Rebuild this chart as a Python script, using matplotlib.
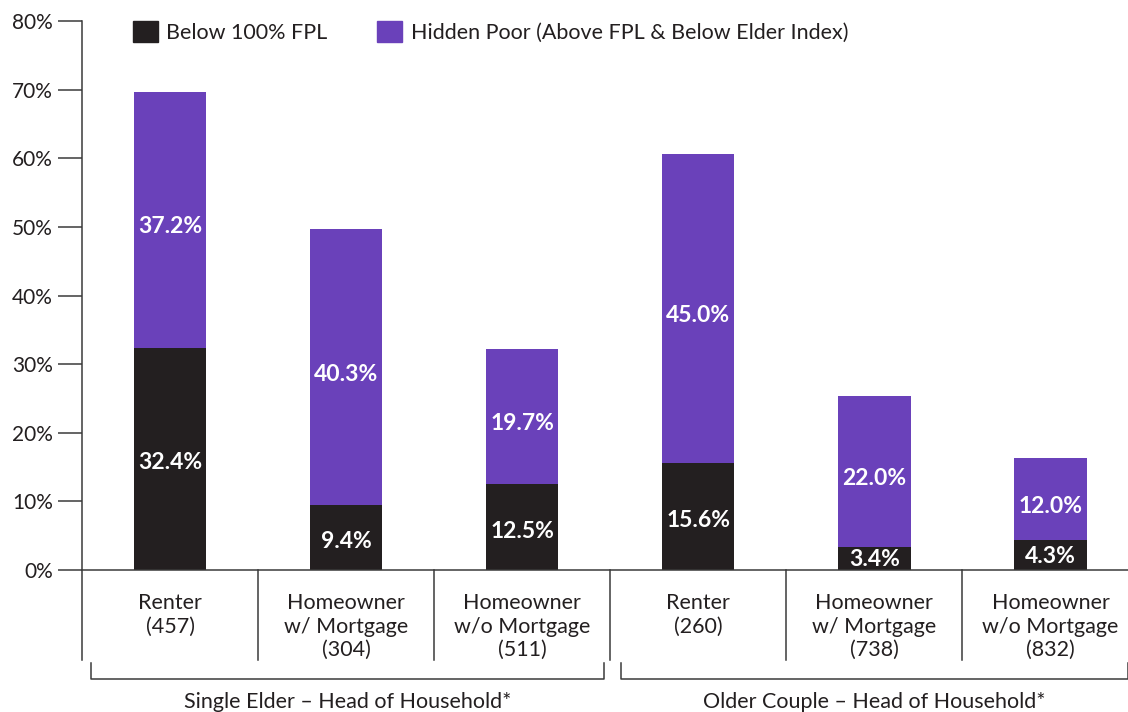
import matplotlib.pyplot as plt
from matplotlib.patches import Patch

plt.rcParams["font.family"] = ["Lato", "DejaVu Sans"]

categories = [
    "Renter\n(457)",
    "Homeowner\nw/ Mortgage\n(304)",
    "Homeowner\nw/o Mortgage\n(511)",
    "Renter\n(260)",
    "Homeowner\nw/ Mortgage\n(738)",
    "Homeowner\nw/o Mortgage\n(832)",
]
below_fpl = [32.4, 9.4, 12.5, 15.6, 3.4, 4.3]
hidden_poor = [37.2, 40.3, 19.7, 45.0, 22.0, 12.0]
groups = ["Single Elder \u2013 Head of Household*", "Older Couple \u2013 Head of Household*"]
yticks = [0, 10, 20, 30, 40, 50, 60, 70, 80]

black = "#231f20"
purple = "#6a41ba"
line_c = "#3a3a3a"
text_c = "#231f20"

fig = plt.figure(figsize=(11.28, 7.12), dpi=100)
ax = fig.add_axes([82 / 1128, 142 / 712, 1 - 82 / 1128, 549 / 712])

x = list(range(len(categories)))
w = 0.41
ax.bar(x, below_fpl, width=w, color=black, zorder=2)
ax.bar(x, hidden_poor, width=w, bottom=below_fpl, color=purple, zorder=2)

for i in x:
    dy = -3 if below_fpl[i] > 8 else -1
    ax.annotate(f"{below_fpl[i]:.1f}%", (i, below_fpl[i] / 2), xytext=(0, dy),
                textcoords="offset points", ha="center", va="center",
                color="white", fontsize=16.5, fontweight="bold", zorder=4)
    ax.annotate(f"{hidden_poor[i]:.1f}%", (i, below_fpl[i] + hidden_poor[i] / 2),
                xytext=(0, -5), textcoords="offset points", ha="center",
                va="center", color="white", fontsize=16.5, fontweight="bold", zorder=4)

ax.set_xlim(-0.5, 5.44)
ax.set_ylim(0, 80)
ax.set_yticks(yticks)
ax.set_yticklabels([f"{v}%" for v in yticks], fontsize=15, color=text_c)
ax.set_xticks([])
ax.tick_params(axis="y", length=17, width=1.1, color=line_c, pad=4)
for s in ["top", "right", "left"]:
    ax.spines[s].set_visible(False)
ax.spines["bottom"].set_color(line_c)
ax.spines["bottom"].set_linewidth(1.1)

# y axis line extended into the label area
ax.plot([-0.5, -0.5], [80, -13.1], color=line_c, lw=1.1, clip_on=False)
# separators between category cells
for b in [0.5, 1.5, 2.5, 3.5, 4.5]:
    ax.plot([b, b], [0, -13.1], color=line_c, lw=1.1, clip_on=False)

for i, lab in enumerate(categories):
    ax.text(i, -3.35, lab, ha="center", va="top", fontsize=15.5, color=text_c,
            linespacing=1.22)

# group brackets
brackets = [(-0.449, 2.466), (2.5625, 5.44)]
for (a, b), g in zip(brackets, groups):
    ax.plot([a, a, b, b], [-13.6, -15.9, -15.9, -13.6], color=line_c, lw=1.1, clip_on=False)
    ax.text((a + b) / 2 if b < 5 else 4.0, -17.75, g, ha="center", va="top",
            fontsize=15.5, color=text_c)

handles = [Patch(color=black, label="Below 100% FPL"),
           Patch(color=purple, label="Hidden Poor (Above FPL & Below Elder Index)")]
ax.legend(handles=handles, loc="upper left", bbox_to_anchor=(0.0488, 1.0), ncol=2,
          frameon=False, fontsize=15.5, borderpad=0, borderaxespad=0,
          handlelength=1.15, handleheight=1.15, handletextpad=0.4, columnspacing=2.3,
          labelcolor=text_c)

fig.savefig("out.png", dpi=100)
